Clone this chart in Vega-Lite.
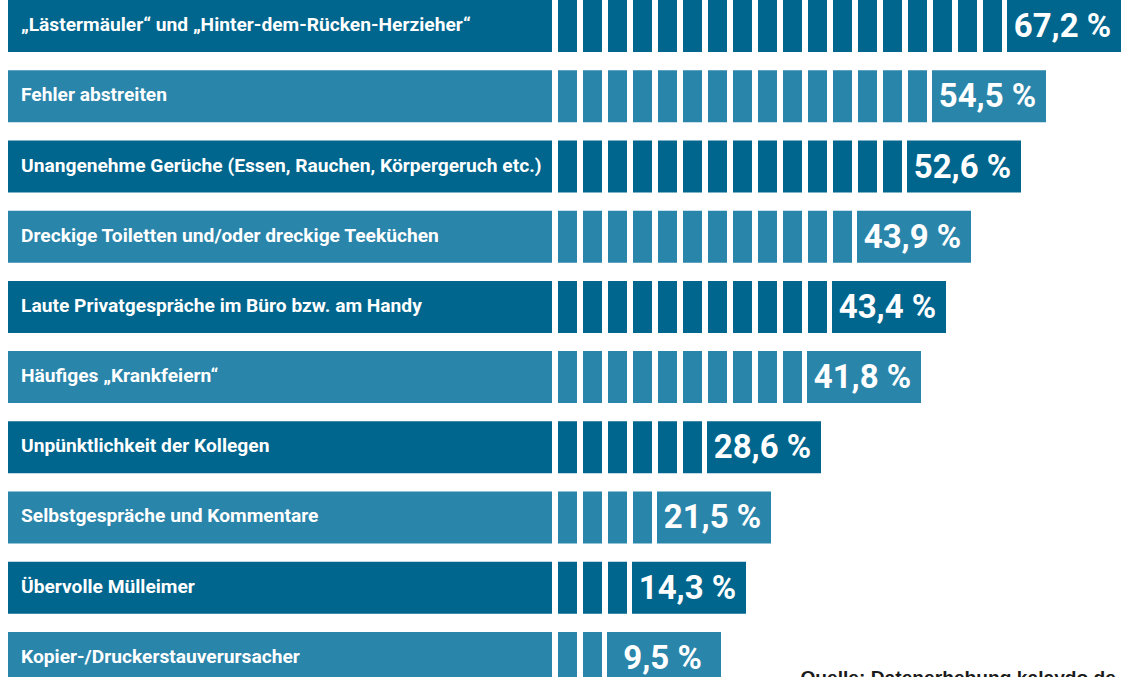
{
  "$schema": "https://vega.github.io/schema/vega-lite/v6.json",
  "width": 1126,
  "height": 677,
  "autosize": {"type": "fit", "contains": "padding"},
  "padding": 0,
  "background": "white",
  "config": {"view": {"stroke": null}},
  "data": {
    "values": [
      {"category": "„Lästermäuler“ und „Hinter-dem-Rücken-Herzieher“", "seg": 1, "value": 67.2, "label": "67,2 %", "segments": 18},
      {"category": "„Lästermäuler“ und „Hinter-dem-Rücken-Herzieher“", "seg": 2},
      {"category": "„Lästermäuler“ und „Hinter-dem-Rücken-Herzieher“", "seg": 3},
      {"category": "„Lästermäuler“ und „Hinter-dem-Rücken-Herzieher“", "seg": 4},
      {"category": "„Lästermäuler“ und „Hinter-dem-Rücken-Herzieher“", "seg": 5},
      {"category": "„Lästermäuler“ und „Hinter-dem-Rücken-Herzieher“", "seg": 6},
      {"category": "„Lästermäuler“ und „Hinter-dem-Rücken-Herzieher“", "seg": 7},
      {"category": "„Lästermäuler“ und „Hinter-dem-Rücken-Herzieher“", "seg": 8},
      {"category": "„Lästermäuler“ und „Hinter-dem-Rücken-Herzieher“", "seg": 9},
      {"category": "„Lästermäuler“ und „Hinter-dem-Rücken-Herzieher“", "seg": 10},
      {"category": "„Lästermäuler“ und „Hinter-dem-Rücken-Herzieher“", "seg": 11},
      {"category": "„Lästermäuler“ und „Hinter-dem-Rücken-Herzieher“", "seg": 12},
      {"category": "„Lästermäuler“ und „Hinter-dem-Rücken-Herzieher“", "seg": 13},
      {"category": "„Lästermäuler“ und „Hinter-dem-Rücken-Herzieher“", "seg": 14},
      {"category": "„Lästermäuler“ und „Hinter-dem-Rücken-Herzieher“", "seg": 15},
      {"category": "„Lästermäuler“ und „Hinter-dem-Rücken-Herzieher“", "seg": 16},
      {"category": "„Lästermäuler“ und „Hinter-dem-Rücken-Herzieher“", "seg": 17},
      {"category": "„Lästermäuler“ und „Hinter-dem-Rücken-Herzieher“", "seg": 18},
      {"category": "Fehler abstreiten", "seg": 1, "value": 54.5, "label": "54,5 %", "segments": 15},
      {"category": "Fehler abstreiten", "seg": 2},
      {"category": "Fehler abstreiten", "seg": 3},
      {"category": "Fehler abstreiten", "seg": 4},
      {"category": "Fehler abstreiten", "seg": 5},
      {"category": "Fehler abstreiten", "seg": 6},
      {"category": "Fehler abstreiten", "seg": 7},
      {"category": "Fehler abstreiten", "seg": 8},
      {"category": "Fehler abstreiten", "seg": 9},
      {"category": "Fehler abstreiten", "seg": 10},
      {"category": "Fehler abstreiten", "seg": 11},
      {"category": "Fehler abstreiten", "seg": 12},
      {"category": "Fehler abstreiten", "seg": 13},
      {"category": "Fehler abstreiten", "seg": 14},
      {"category": "Fehler abstreiten", "seg": 15},
      {"category": "Unangenehme Gerüche (Essen, Rauchen, Körpergeruch etc.)", "seg": 1, "value": 52.6, "label": "52,6 %", "segments": 14},
      {"category": "Unangenehme Gerüche (Essen, Rauchen, Körpergeruch etc.)", "seg": 2},
      {"category": "Unangenehme Gerüche (Essen, Rauchen, Körpergeruch etc.)", "seg": 3},
      {"category": "Unangenehme Gerüche (Essen, Rauchen, Körpergeruch etc.)", "seg": 4},
      {"category": "Unangenehme Gerüche (Essen, Rauchen, Körpergeruch etc.)", "seg": 5},
      {"category": "Unangenehme Gerüche (Essen, Rauchen, Körpergeruch etc.)", "seg": 6},
      {"category": "Unangenehme Gerüche (Essen, Rauchen, Körpergeruch etc.)", "seg": 7},
      {"category": "Unangenehme Gerüche (Essen, Rauchen, Körpergeruch etc.)", "seg": 8},
      {"category": "Unangenehme Gerüche (Essen, Rauchen, Körpergeruch etc.)", "seg": 9},
      {"category": "Unangenehme Gerüche (Essen, Rauchen, Körpergeruch etc.)", "seg": 10},
      {"category": "Unangenehme Gerüche (Essen, Rauchen, Körpergeruch etc.)", "seg": 11},
      {"category": "Unangenehme Gerüche (Essen, Rauchen, Körpergeruch etc.)", "seg": 12},
      {"category": "Unangenehme Gerüche (Essen, Rauchen, Körpergeruch etc.)", "seg": 13},
      {"category": "Unangenehme Gerüche (Essen, Rauchen, Körpergeruch etc.)", "seg": 14},
      {"category": "Dreckige Toiletten und/oder dreckige Teeküchen", "seg": 1, "value": 43.9, "label": "43,9 %", "segments": 12},
      {"category": "Dreckige Toiletten und/oder dreckige Teeküchen", "seg": 2},
      {"category": "Dreckige Toiletten und/oder dreckige Teeküchen", "seg": 3},
      {"category": "Dreckige Toiletten und/oder dreckige Teeküchen", "seg": 4},
      {"category": "Dreckige Toiletten und/oder dreckige Teeküchen", "seg": 5},
      {"category": "Dreckige Toiletten und/oder dreckige Teeküchen", "seg": 6},
      {"category": "Dreckige Toiletten und/oder dreckige Teeküchen", "seg": 7},
      {"category": "Dreckige Toiletten und/oder dreckige Teeküchen", "seg": 8},
      {"category": "Dreckige Toiletten und/oder dreckige Teeküchen", "seg": 9},
      {"category": "Dreckige Toiletten und/oder dreckige Teeküchen", "seg": 10},
      {"category": "Dreckige Toiletten und/oder dreckige Teeküchen", "seg": 11},
      {"category": "Dreckige Toiletten und/oder dreckige Teeküchen", "seg": 12},
      {"category": "Laute Privatgespräche im Büro bzw. am Handy", "seg": 1, "value": 43.4, "label": "43,4 %", "segments": 11},
      {"category": "Laute Privatgespräche im Büro bzw. am Handy", "seg": 2},
      {"category": "Laute Privatgespräche im Büro bzw. am Handy", "seg": 3},
      {"category": "Laute Privatgespräche im Büro bzw. am Handy", "seg": 4},
      {"category": "Laute Privatgespräche im Büro bzw. am Handy", "seg": 5},
      {"category": "Laute Privatgespräche im Büro bzw. am Handy", "seg": 6},
      {"category": "Laute Privatgespräche im Büro bzw. am Handy", "seg": 7},
      {"category": "Laute Privatgespräche im Büro bzw. am Handy", "seg": 8},
      {"category": "Laute Privatgespräche im Büro bzw. am Handy", "seg": 9},
      {"category": "Laute Privatgespräche im Büro bzw. am Handy", "seg": 10},
      {"category": "Laute Privatgespräche im Büro bzw. am Handy", "seg": 11},
      {"category": "Häufiges „Krankfeiern“", "seg": 1, "value": 41.8, "label": "41,8 %", "segments": 10},
      {"category": "Häufiges „Krankfeiern“", "seg": 2},
      {"category": "Häufiges „Krankfeiern“", "seg": 3},
      {"category": "Häufiges „Krankfeiern“", "seg": 4},
      {"category": "Häufiges „Krankfeiern“", "seg": 5},
      {"category": "Häufiges „Krankfeiern“", "seg": 6},
      {"category": "Häufiges „Krankfeiern“", "seg": 7},
      {"category": "Häufiges „Krankfeiern“", "seg": 8},
      {"category": "Häufiges „Krankfeiern“", "seg": 9},
      {"category": "Häufiges „Krankfeiern“", "seg": 10},
      {"category": "Unpünktlichkeit der Kollegen", "seg": 1, "value": 28.6, "label": "28,6 %", "segments": 6},
      {"category": "Unpünktlichkeit der Kollegen", "seg": 2},
      {"category": "Unpünktlichkeit der Kollegen", "seg": 3},
      {"category": "Unpünktlichkeit der Kollegen", "seg": 4},
      {"category": "Unpünktlichkeit der Kollegen", "seg": 5},
      {"category": "Unpünktlichkeit der Kollegen", "seg": 6},
      {"category": "Selbstgespräche und Kommentare", "seg": 1, "value": 21.5, "label": "21,5 %", "segments": 4},
      {"category": "Selbstgespräche und Kommentare", "seg": 2},
      {"category": "Selbstgespräche und Kommentare", "seg": 3},
      {"category": "Selbstgespräche und Kommentare", "seg": 4},
      {"category": "Übervolle Mülleimer", "seg": 1, "value": 14.3, "label": "14,3 %", "segments": 3},
      {"category": "Übervolle Mülleimer", "seg": 2},
      {"category": "Übervolle Mülleimer", "seg": 3},
      {"category": "Kopier-/Druckerstauverursacher", "seg": 1, "value": 9.5, "label": "9,5 %", "segments": 2},
      {"category": "Kopier-/Druckerstauverursacher", "seg": 2}
    ]
  },
  "layer": [
    {
      "mark": {"type": "tick", "orient": "vertical", "thickness": 19, "size": 52, "opacity": 1},
      "encoding": {
        "y": {"field": "category", "type": "nominal", "sort": null, "axis": null,
          "scale": {"type": "band", "range": [-4, 680], "paddingInner": 0.256, "paddingOuter": 0}},
        "x": {"field": "seg", "type": "quantitative", "axis": null,
          "scale": {"type": "linear", "domain": [-21.7, 23.34], "range": [0, 1126], "nice": false, "zero": false}},
        "color": {"field": "category", "type": "nominal", "legend": null,
          "scale": {"domain": [
            "„Lästermäuler“ und „Hinter-dem-Rücken-Herzieher“", "Fehler abstreiten",
            "Unangenehme Gerüche (Essen, Rauchen, Körpergeruch etc.)", "Dreckige Toiletten und/oder dreckige Teeküchen",
            "Laute Privatgespräche im Büro bzw. am Handy", "Häufiges „Krankfeiern“",
            "Unpünktlichkeit der Kollegen", "Selbstgespräche und Kommentare",
            "Übervolle Mülleimer", "Kopier-/Druckerstauverursacher"],
            "range": ["#00668e", "#2a85ab", "#00668e", "#2a85ab", "#00668e", "#2a85ab", "#00668e", "#2a85ab", "#00668e", "#2a85ab"]}}
      }
    },
    {
      "transform": [{"filter": "datum.seg === 1"}],
      "mark": {"type": "point", "shape": "M0,-0.0956H2V0.0956H0Z", "size": 295936, "filled": true, "opacity": 1, "strokeWidth": 0},
      "encoding": {
        "y": {"field": "category", "type": "nominal", "sort": null, "axis": null},
        "x": {"datum": -21.38, "type": "quantitative", "axis": null},
        "color": {"field": "category", "type": "nominal", "legend": null}
      }
    },
    {
      "transform": [{"filter": "datum.seg === 1"}],
      "mark": {"type": "point", "shape": "M0.2544,-0.456H2.2544V0.456H0.2544Z", "size": 12996, "filled": true, "opacity": 1, "strokeWidth": 0},
      "encoding": {
        "y": {"field": "category", "type": "nominal", "sort": null, "axis": null},
        "x": {"field": "segments", "type": "quantitative", "axis": null},
        "color": {"field": "category", "type": "nominal", "legend": null}
      }
    },
    {
      "transform": [{"filter": "datum.seg === 1"}],
      "mark": {"type": "text", "align": "left", "baseline": "middle", "dx": 13, "dy": -1, "font": "Roboto", "fontWeight": "bold", "fontSize": 19.2, "fill": "white"},
      "encoding": {
        "y": {"field": "category", "type": "nominal", "sort": null, "axis": null},
        "x": {"datum": -21.38, "type": "quantitative", "axis": null},
        "text": {"field": "category", "type": "nominal"}
      }
    },
    {
      "transform": [{"filter": "datum.seg === 1"}],
      "mark": {"type": "text", "align": "center", "baseline": "middle", "dx": 70, "dy": 1, "font": "Roboto", "fontWeight": "bold", "fontSize": 33, "fill": "white"},
      "encoding": {
        "y": {"field": "category", "type": "nominal", "sort": null, "axis": null},
        "x": {"field": "segments", "type": "quantitative", "axis": null},
        "text": {"field": "label", "type": "nominal"}
      }
    },
    {
      "transform": [{"filter": "datum.seg === 1 && datum.category === 'Kopier-/Druckerstauverursacher'"}],
      "mark": {"type": "text", "align": "right", "baseline": "alphabetic", "dy": 26, "font": "Liberation Sans", "fontWeight": "bold", "fontSize": 19.2, "fill": "#1a1a1a"},
      "encoding": {
        "y": {"field": "category", "type": "nominal", "sort": null, "axis": null},
        "x": {"datum": 22.94, "type": "quantitative", "axis": null},
        "text": {"value": "Quelle: Datenerhebung kalaydo.de"}
      }
    }
  ]
}
